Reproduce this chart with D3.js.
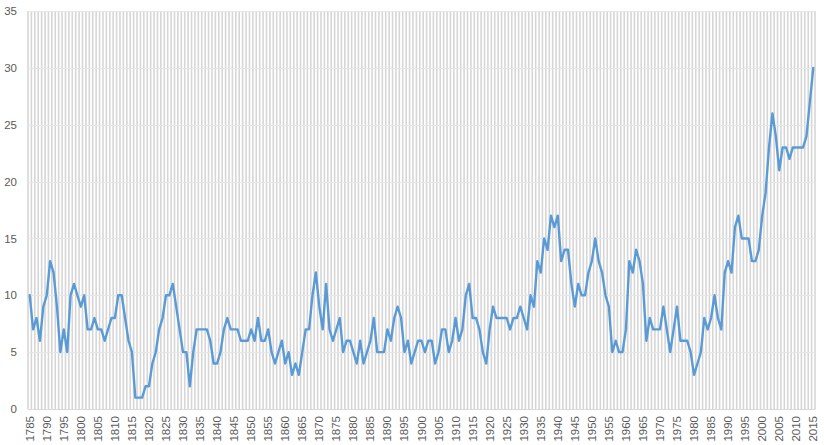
<!DOCTYPE html>
<html>
<head>
<meta charset="utf-8">
<script src="https://cdn.jsdelivr.net/npm/d3@7/dist/d3.min.js"></script>
<style>
  html, body { margin: 0; padding: 0; background: #ffffff; }
  svg { display: block; }
  text { font-family: "Liberation Sans", Arial, sans-serif; fill: #595959; }
</style>
</head>
<body>
<svg id="chart" width="824" height="445"></svg>
<script>
const startYear = 1785;
const values = [
  10,7,8,6,9,10,13,12,9,5,
  7,5,10,11,10,9,10,7,7,8,
  7,7,6,7,8,8,10,10,8,6,
  5,1,1,1,2,2,4,5,7,8,
  10,10,11,9,7,5,5,2,5,7,
  7,7,7,6,4,4,5,7,8,7,
  7,7,6,6,6,7,6,8,6,6,
  7,5,4,5,6,4,5,3,4,3,
  5,7,7,10,12,9,7,11,7,6,
  7,8,5,6,6,5,4,6,4,5,
  6,8,5,5,5,7,6,8,9,8,
  5,6,4,5,6,6,5,6,6,4,
  5,7,7,5,6,8,6,7,10,11,
  8,8,7,5,4,7,9,8,8,8,
  8,7,8,8,9,8,7,10,9,13,
  12,15,14,17,16,17,13,14,14,11,
  9,11,10,10,12,13,15,13,12,10,
  9,5,6,5,5,7,13,12,14,13,
  11,6,8,7,7,7,9,7,5,7,
  9,6,6,6,5,3,4,5,8,7,
  8,10,8,7,12,13,12,16,17,15,
  15,15,13,13,14,17,19,23,26,24,
  21,23,23,22,23,23,23,23,24,27,30
];
const years = values.map((_, i) => startYear + i);
const yTicks = [0, 5, 10, 15, 20, 25, 30, 35];
const xTickLabels = years.filter(yr => (yr - startYear) % 5 === 0);

(function () {
const svg = d3.select("#chart");
const pLeft = 28, pRight = 815, pTop = 11, pBottom = 409;

const x = d3.scaleBand().domain(years).range([pLeft, pRight]).paddingInner(0).paddingOuter(0);
const y = d3.scaleLinear().domain([0, 35]).range([pBottom, pTop]);

// vertical category gridlines (dense, giving the hatched look)
const bounds = years.map(yr => x(yr)).concat([pRight]);
svg.append("g").selectAll("line").data(bounds).join("line")
  .attr("x1", d => d).attr("x2", d => d)
  .attr("y1", pTop).attr("y2", pBottom)
  .attr("stroke", "#d6d6d6").attr("stroke-width", 1.6);

// horizontal gridlines
svg.append("g").selectAll("line").data(yTicks).join("line")
  .attr("x1", pLeft).attr("x2", pRight)
  .attr("y1", d => Math.round(y(d)) + 0.5).attr("y2", d => Math.round(y(d)) + 0.5)
  .attr("stroke", "#e6e6e6").attr("stroke-width", 1.2);

// y axis labels
const yAxis = d3.axisLeft(y).tickValues(yTicks).tickSize(0).tickPadding(11);
const gy = svg.append("g").attr("transform", `translate(${pLeft},0)`).call(yAxis);
gy.select(".domain").remove();
gy.selectAll("text").style("font-size", "11.5px").attr("fill", "#595959")
  .style("font-family", "'Liberation Sans', Arial, sans-serif");

// x axis
const xAxis = d3.axisBottom(x).tickValues(xTickLabels).tickSize(0).tickPadding(0);
const gx = svg.append("g").attr("transform", `translate(0,${pBottom})`).call(xAxis);
gx.select(".domain").attr("stroke", "#d9d9d9");
gx.selectAll("text")
  .style("font-size", "11.5px").attr("fill", "#595959")
  .style("font-family", "'Liberation Sans', Arial, sans-serif")
  .attr("transform", "rotate(-90)")
  .attr("text-anchor", "end")
  .attr("x", -7).attr("y", 0).attr("dy", "0.35em");

// line
const line = d3.line()
  .x((d, i) => x(years[i]) + x.bandwidth() / 2)
  .y(d => y(d));
svg.append("path").datum(values)
  .attr("d", line)
  .attr("fill", "none")
  .attr("stroke", "#5B9BD5")
  .attr("stroke-width", 2.4)
  .attr("stroke-linejoin", "round")
  .attr("stroke-linecap", "round");
})();
</script>
</body>
</html>
